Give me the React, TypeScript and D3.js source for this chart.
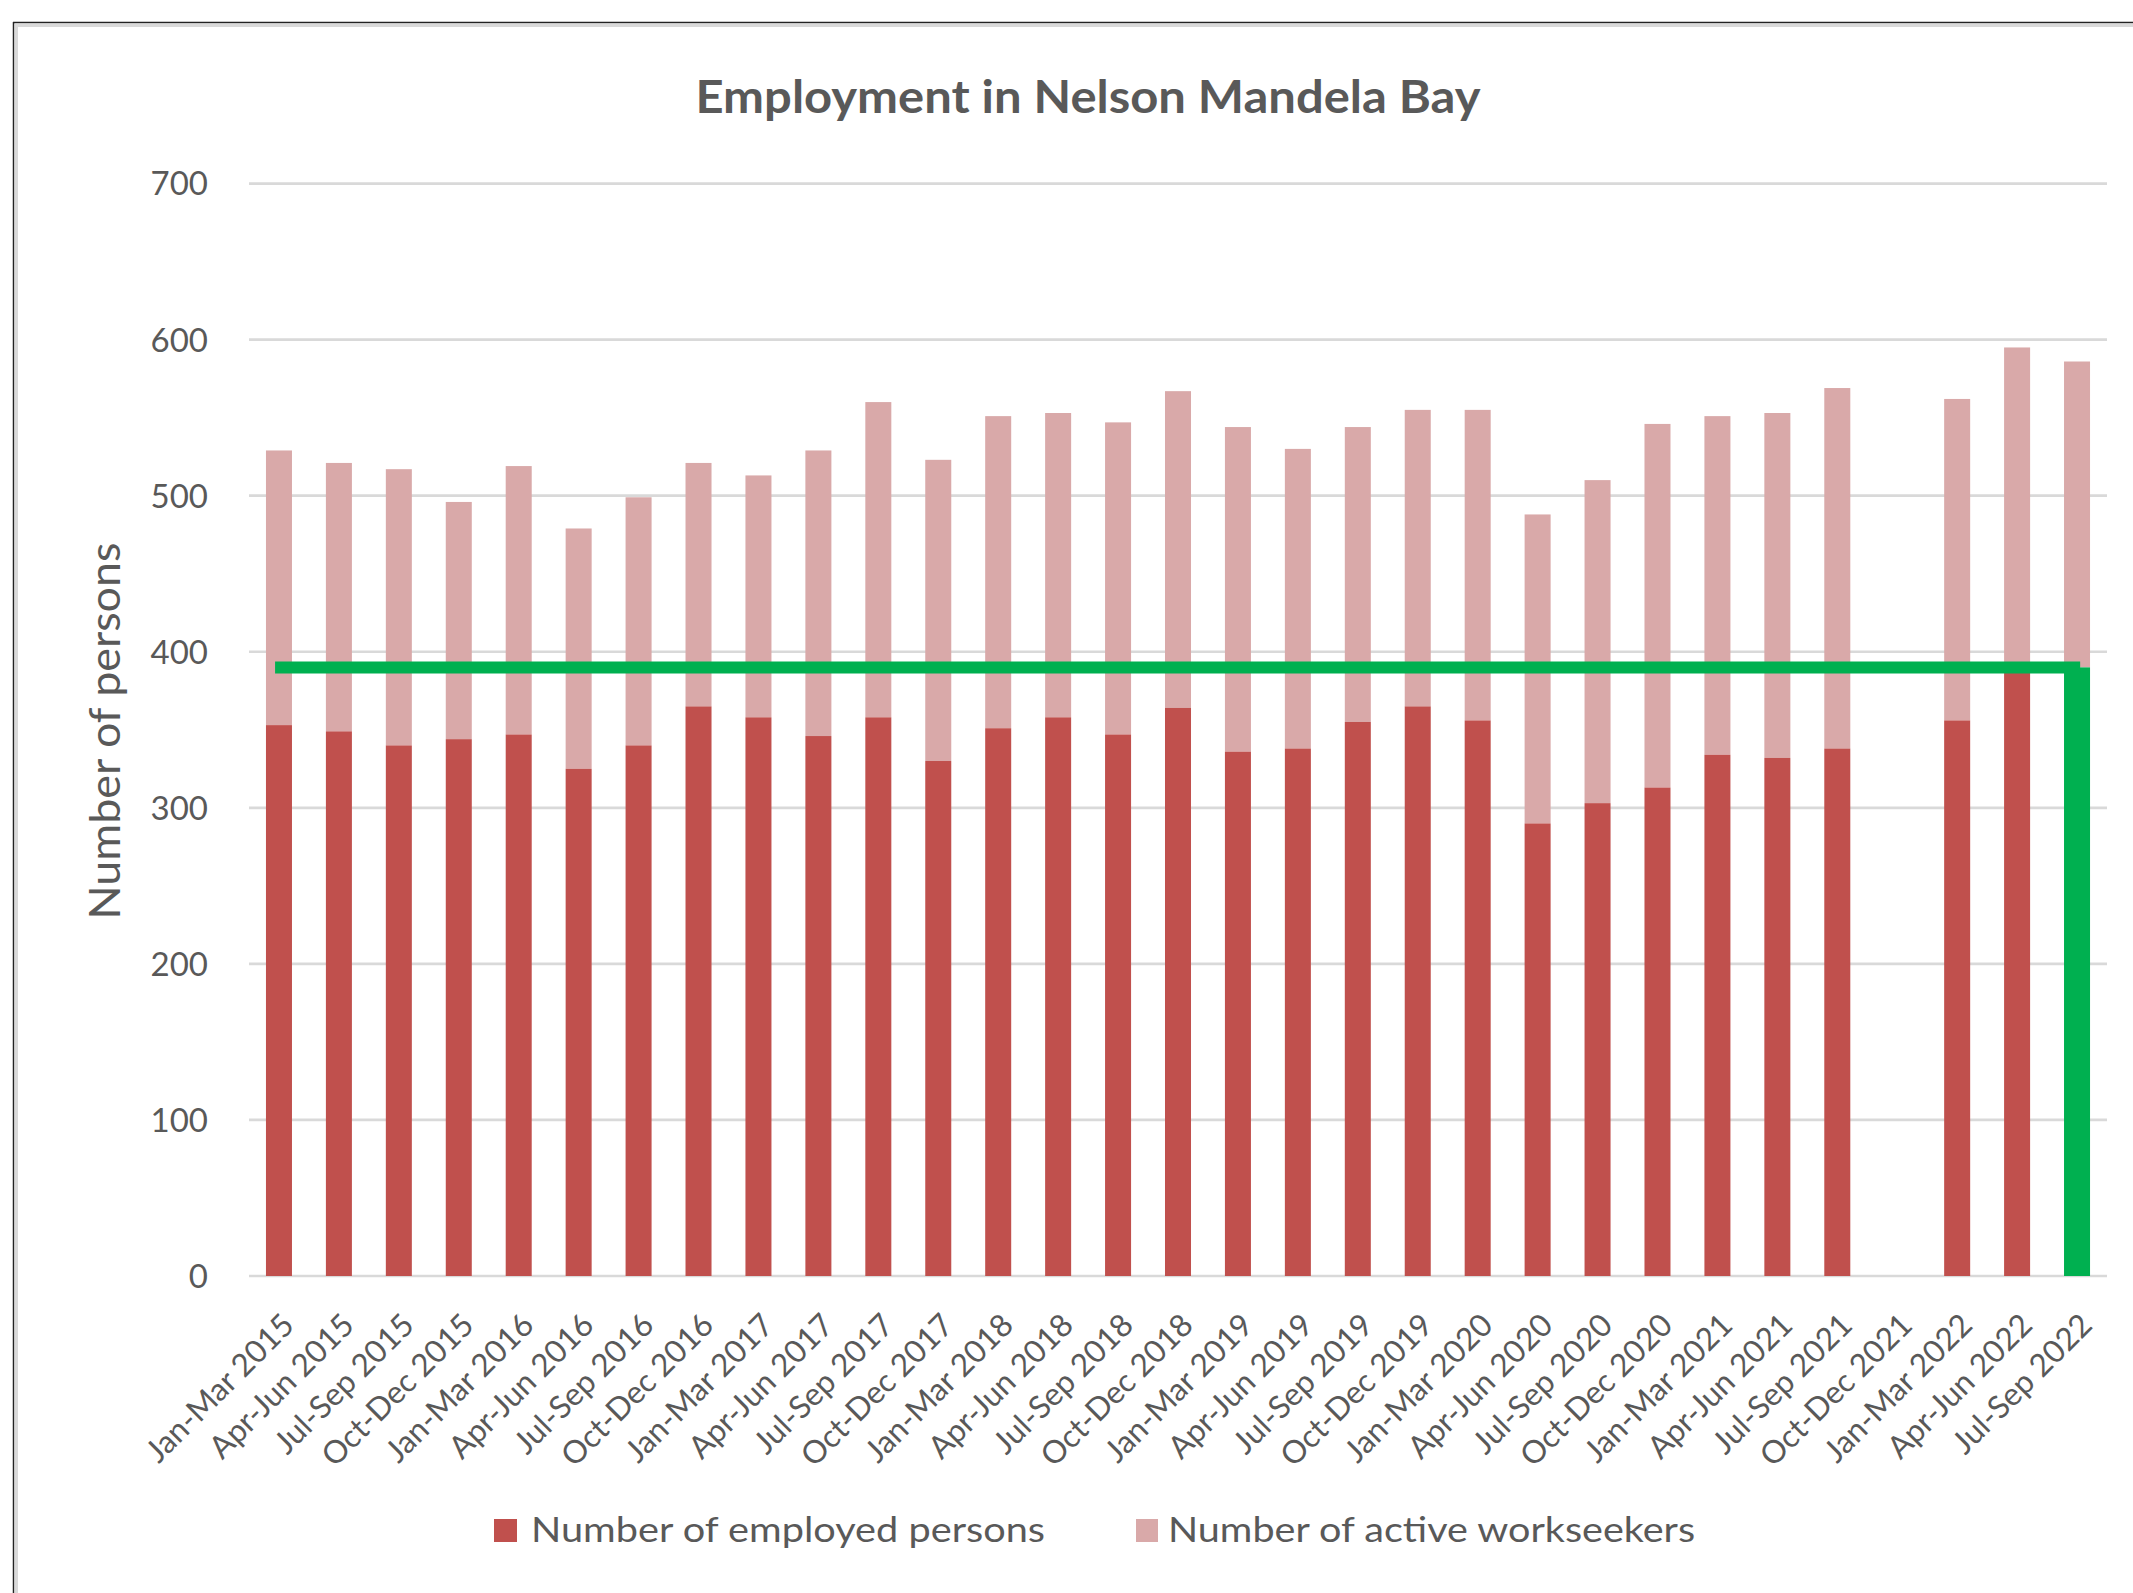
import React from "react";
import * as d3 from "d3";

const categories: string[] = [
  "Jan-Mar 2015", "Apr-Jun 2015", "Jul-Sep 2015", "Oct-Dec 2015",
  "Jan-Mar 2016", "Apr-Jun 2016", "Jul-Sep 2016", "Oct-Dec 2016",
  "Jan-Mar 2017", "Apr-Jun 2017", "Jul-Sep 2017", "Oct-Dec 2017",
  "Jan-Mar 2018", "Apr-Jun 2018", "Jul-Sep 2018", "Oct-Dec 2018",
  "Jan-Mar 2019", "Apr-Jun 2019", "Jul-Sep 2019", "Oct-Dec 2019",
  "Jan-Mar 2020", "Apr-Jun 2020", "Jul-Sep 2020", "Oct-Dec 2020",
  "Jan-Mar 2021", "Apr-Jun 2021", "Jul-Sep 2021", "Oct-Dec 2021",
  "Jan-Mar 2022", "Apr-Jun 2022", "Jul-Sep 2022",
];

const employed: (number | null)[] = [
  353, 349, 340, 344, 347, 325, 340, 365, 358, 346, 358, 330,
  351, 358, 347, 364, 336, 338, 355, 365, 356, 290, 303, 313,
  334, 332, 338, null, 356, 388, 390,
];

const workseekers: (number | null)[] = [
  176, 172, 177, 152, 172, 154, 159, 156, 155, 183, 202, 193,
  200, 195, 200, 203, 208, 192, 189, 190, 199, 198, 207, 233,
  217, 221, 231, null, 206, 207, 196,
];

const yTicks: number[] = [0, 100, 200, 300, 400, 500, 600, 700];
const referenceLevel = 390;
const highlightIndex = 30;

const seriesNames = ["Number of employed persons", "Number of active workseekers"];
const title = "Employment in Nelson Mandela Bay";
const yAxisTitle = "Number of persons";

const COLORS = {
  employed: "#C0504D",
  seekers: "#D9A9A9",
  green: "#00B050",
  grid: "#D9D9D9",
  text: "#595959",
};

const FONT = "Lato, 'Open Sans', 'Liberation Sans', sans-serif";

export default function App() {
  const W = 2133;
  const H = 1593;
  const plotLeft = 249;
  const plotRight = 2107;
  const plotBottom = 1276;
  const plotTop = 183.6;

  const x = d3
    .scaleBand<string>()
    .domain(categories)
    .range([plotLeft, plotRight])
    .paddingInner(0.566)
    .paddingOuter(0.283);
  const y = d3.scaleLinear().domain([0, 700]).range([plotBottom, plotTop]);
  const bw = x.bandwidth();

  const lineY = y(referenceLevel);
  const lineX1 = (x(categories[0]) as number) + bw * 0.35;
  const lineX2 = (x(categories[highlightIndex]) as number) + bw * 0.62;

  return (
    <svg
      width={W}
      height={H}
      viewBox={`0 0 ${W} ${H}`}
      style={{ position: "absolute", left: 0, top: 0, display: "block", background: "#fff" }}
    >
      <rect x={0} y={0} width={W} height={H} fill="#fff" />
      {/* frame */}
      <line x1={13.5} y1={22} x2={13.5} y2={H} stroke="#222" strokeWidth={1.5} />
      <line x1={13} y1={22.5} x2={W} y2={22.5} stroke="#222" strokeWidth={1.5} />
      <line x1={16.5} y1={24} x2={16.5} y2={H} stroke="#D9D9D9" strokeWidth={3} />
      <line x1={15} y1={25.5} x2={W} y2={25.5} stroke="#D9D9D9" strokeWidth={3} />

      {/* title */}
      <text
        x={1088}
        y={113}
        textAnchor="middle"
        fontFamily={FONT}
        fontWeight={700}
        fontSize={46}
        fill={COLORS.text}
        textLength={785}
        lengthAdjust="spacingAndGlyphs"
      >
        {title}
      </text>

      {/* gridlines */}
      {yTicks.map((t) => (
        <line
          key={"g" + t}
          x1={plotLeft}
          x2={plotRight}
          y1={y(t)}
          y2={y(t)}
          stroke={COLORS.grid}
          strokeWidth={2.7}
        />
      ))}

      {/* y tick labels */}
      {yTicks.map((t) => (
        <text
          key={"yt" + t}
          x={208}
          y={y(t)}
          dy="0.36em"
          textAnchor="end"
          fontFamily={FONT}
          fontSize={33}
          fill={COLORS.text}
        >
          {t}
        </text>
      ))}

      {/* y axis title */}
      <text
        transform={`translate(120, 731) rotate(-90)`}
        textAnchor="middle"
        fontFamily={FONT}
        fontSize={42}
        fill={COLORS.text}
        textLength={377}
        lengthAdjust="spacingAndGlyphs"
      >
        {yAxisTitle}
      </text>

      {/* bars */}
      {categories.map((c, i) => {
        const e = employed[i];
        const s = workseekers[i];
        if (e == null || s == null) return null;
        const x0 = x(c) as number;
        return (
          <g key={"b" + i}>
            <rect
              x={x0}
              width={bw}
              y={y(e + s)}
              height={y(e) - y(e + s)}
              fill={COLORS.seekers}
            />
            <rect
              x={x0}
              width={bw}
              y={y(e)}
              height={y(0) - y(e)}
              fill={i === highlightIndex ? COLORS.green : COLORS.employed}
            />
          </g>
        );
      })}

      {/* reference line */}
      <line
        x1={lineX1}
        x2={lineX2}
        y1={lineY}
        y2={lineY}
        stroke={COLORS.green}
        strokeWidth={12}
      />

      {/* x tick labels */}
      {categories.map((c) => {
        const cx = (x(c) as number) + bw / 2;
        return (
          <text
            key={"xt" + c}
            transform={`translate(${cx + 17}, ${plotBottom + 51}) rotate(-45)`}
            textAnchor="end"
            fontFamily={FONT}
            fontSize={31.5}
            fill={COLORS.text}
          >
            {c}
          </text>
        );
      })}

      {/* legend */}
      <rect x={494} y={1519} width={23} height={23} fill={COLORS.employed} />
      <text
        x={531}
        y={1542}
        fontFamily={FONT}
        fontSize={34}
        fill={COLORS.text}
        textLength={514}
        lengthAdjust="spacingAndGlyphs"
      >
        {seriesNames[0]}
      </text>
      <rect x={1136} y={1519} width={22} height={23} fill={COLORS.seekers} />
      <text
        x={1168}
        y={1542}
        fontFamily={FONT}
        fontSize={34}
        fill={COLORS.text}
        textLength={527}
        lengthAdjust="spacingAndGlyphs"
      >
        {seriesNames[1]}
      </text>
    </svg>
  );
}
